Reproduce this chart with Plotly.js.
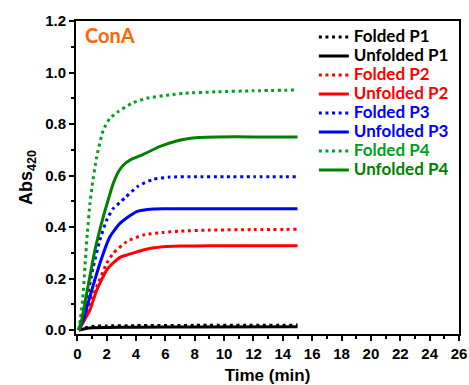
<!DOCTYPE html>
<html>
<head>
<meta charset="utf-8">
<script src="https://cdn.plot.ly/plotly-3.0.1.min.js"></script>
<style>html,body{margin:0;padding:0;background:#fff;}#chart{width:469px;height:385px;}</style>
</head>
<body>
<div id="chart"></div>
<script>
// Series names
const names = ["Folded P1","Unfolded P1","Folded P2","Unfolded P2","Folded P3","Unfolded P3","Folded P4","Unfolded P4"];

// Folded P1 (black dotted)
const tF1 = [0.1, 0.5, 1, 2, 4, 8, 15];
const vF1 = [0, 0.008, 0.014, 0.016, 0.017, 0.018, 0.019];
// Unfolded P1 (black solid)
const tU1 = [0.1, 0.5, 1, 2, 4, 8, 15];
const vU1 = [0, 0.005, 0.009, 0.010, 0.011, 0.012, 0.013];
// Folded P2 (red dotted)
const tF2 = [0.1, 0.5, 1.32, 2.0, 2.45, 3.36, 4.49, 5.85, 7, 9, 12, 15];
const vF2 = [0, 0.05, 0.168, 0.259, 0.298, 0.343, 0.369, 0.379, 0.384, 0.388, 0.390, 0.391];
// Unfolded P2 (red solid)
const tU2 = [0.1, 0.4, 0.86, 1.32, 2.0, 2.68, 3.0, 3.36, 4.49, 5.85, 7, 9, 12, 15];
const vU2 = [0, 0.03, 0.078, 0.155, 0.233, 0.272, 0.285, 0.291, 0.311, 0.323, 0.326, 0.327, 0.327, 0.327];
// Folded P3 (blue dotted)
const tF3 = [0.1, 0.5, 1.09, 1.54, 2.0, 2.45, 2.9, 3.25, 4.15, 5.17, 6.3, 8, 10, 12, 15];
const vF3 = [0, 0.08, 0.246, 0.35, 0.427, 0.472, 0.495, 0.514, 0.559, 0.585, 0.594, 0.595, 0.595, 0.595, 0.595];
// Unfolded P3 (blue solid)
const tU3 = [0.1, 0.4, 0.86, 1.54, 2.22, 2.9, 4.04, 5.17, 6, 8, 10, 15];
const vU3 = [0, 0.04, 0.13, 0.259, 0.362, 0.414, 0.46, 0.47, 0.471, 0.471, 0.471, 0.471];
// Folded P4 (green dotted)
const tF4 = [0.1, 0.2, 0.36, 0.52, 0.68, 0.86, 1.0, 1.32, 1.77, 2.22, 2.79, 3.7, 4.72, 6.3, 7.2, 9.5, 12, 15];
const vF4 = [0, 0.04, 0.117, 0.246, 0.375, 0.492, 0.556, 0.673, 0.777, 0.822, 0.848, 0.88, 0.90, 0.913, 0.919, 0.925, 0.929, 0.932];
// Unfolded P4 (green solid)
const tU4 = [0.1, 0.3, 0.64, 1.2, 1.77, 2.1, 2.45, 2.8, 3.13, 3.59, 4.49, 5.6, 6.76, 7.5, 8.3, 9.5, 12, 15];
const vU4 = [0, 0.04, 0.142, 0.31, 0.44, 0.505, 0.57, 0.615, 0.64, 0.66, 0.682, 0.712, 0.734, 0.743, 0.748, 0.75, 0.75, 0.75];

// Axis ticks
const xTicks = [0,2,4,6,8,10,12,14,16,18,20,22,24,26];
const yTicks = [0.0,0.2,0.4,0.6,0.8,1.0,1.2];
const yTickText = ["0.0","0.2","0.4","0.6","0.8","1.0","1.2"];

const colors = ["#000000","#000000","#FF0000","#FF0000","#0000FF","#0000FF","#00A020","#008000"];
const dotted = [true,false,true,false,true,false,true,false];
const xs = [tF1,tU1,tF2,tU2,tF3,tU3,tF4,tU4];
const ys = [vF1,vU1,vF2,vU2,vF3,vU3,vF4,vU4];

const traces = names.map((n,i)=>({
  x: xs[i], y: ys[i], type:'scatter', mode:'lines',
  name: '<span style="color:'+colors[i]+';font-size:17px">'+n+'</span>',
  line: {color: colors[i], width: 3, dash: dotted[i] ? '3px,3.6px' : 'solid', shape:'spline', smoothing:0.5}
}));

const axisCommon = {
  showline:true, linecolor:'#000', linewidth:2, mirror:true,
  ticks:'outside', ticklen:5, tickwidth:2, tickcolor:'#000',
  showgrid:false, zeroline:false,
  tickfont:{family:'Liberation Sans, Arial, sans-serif', size:15, color:'#000', weight:'bold'}
};

const layout = {
  width:469, height:385,
  margin:{l:76, r:10, t:21, b:51},
  paper_bgcolor:'#fff', plot_bgcolor:'#fff',
  showlegend:true,
  legend:{x:0.621, y:0.995, xanchor:'left', yanchor:'top', bgcolor:'rgba(0,0,0,0)',
    font:{family:'Lato, Liberation Sans, sans-serif', size:12, weight:'bold'},
    itemwidth:30, tracegroupgap:0},
  xaxis: Object.assign({}, axisCommon, {
    range:[-0.09, 26], tickvals:xTicks, ticktext:xTicks.map(String),
    minor:{dtick:1, tick0:0, ticks:'outside', ticklen:3, tickwidth:2, tickcolor:'#000', showgrid:false},
    title:{text:'Time (min)', font:{family:'Liberation Sans, Arial, sans-serif', size:17, color:'#000', weight:'bold'}, standoff:8}
  }),
  yaxis: Object.assign({}, axisCommon, {
    range:[-0.0155, 1.2], tickvals:yTicks, ticktext:yTickText,
    minor:{dtick:0.1, tick0:0, ticks:'outside', ticklen:3, tickwidth:2, tickcolor:'#000', showgrid:false},
    title:{text:'Abs<sub>420</sub>', font:{family:'Liberation Sans, Arial, sans-serif', size:18, color:'#000', weight:'bold'}, standoff:8}
  }),
  annotations:[{
    xref:'paper', yref:'paper', x:0.018, y:0.955, xanchor:'left', yanchor:'middle',
    text:'ConA', showarrow:false,
    font:{family:'Lato, Liberation Sans, sans-serif', size:20, color:'#FF6600', weight:'bold'}
  }]
};

Plotly.newPlot('chart', traces, layout, {displayModeBar:false, staticPlot:true});
</script>
</body>
</html>
